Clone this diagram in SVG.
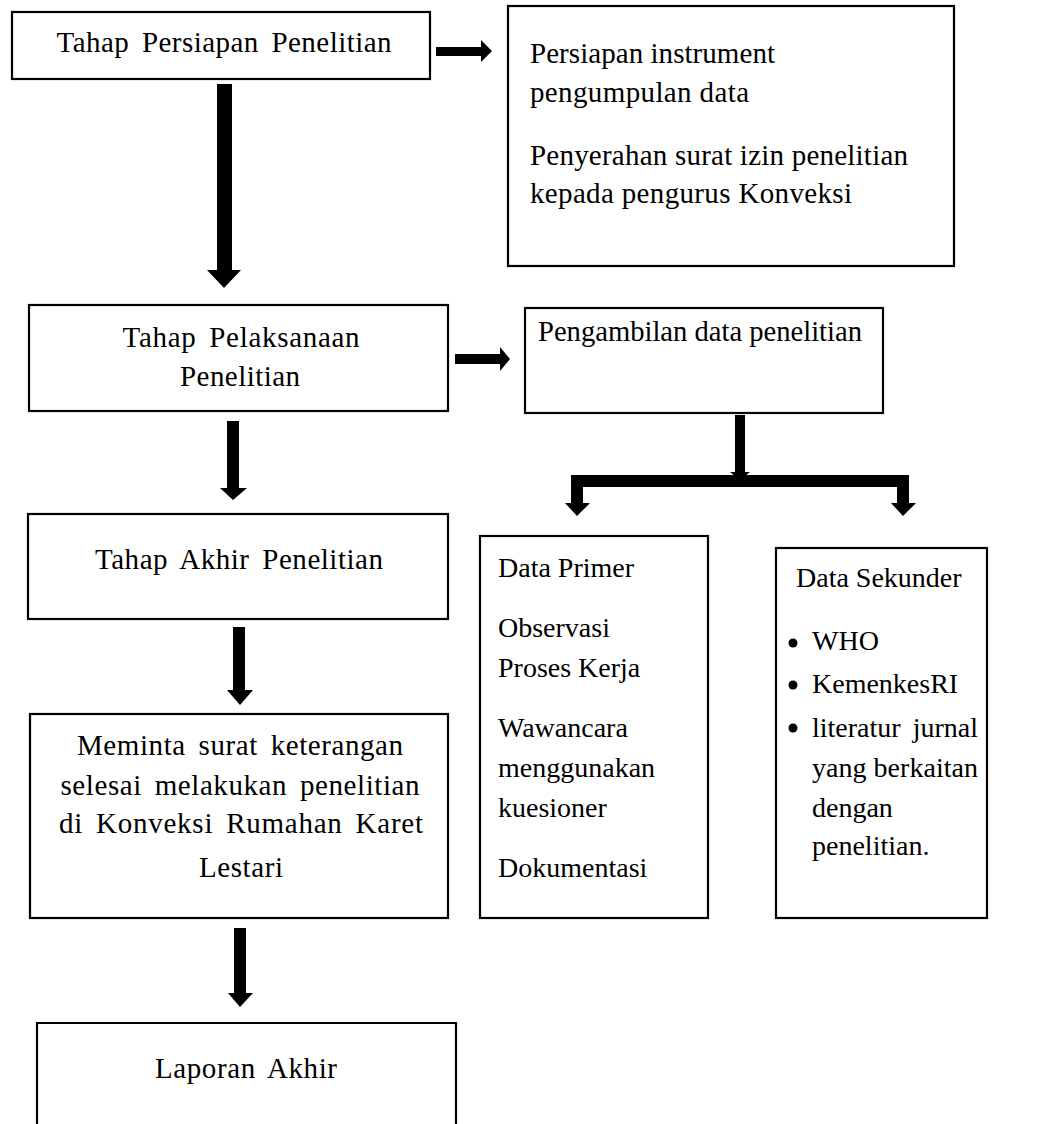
<svg xmlns="http://www.w3.org/2000/svg" width="1053" height="1124" viewBox="0 0 1053 1124">
<style>
.box{fill:#fff;stroke:#000;stroke-width:2.2}
.t{font-family:"Liberation Serif","Times New Roman",serif;font-size:28px;fill:#000}
.l{font-size:29px}
.c{text-anchor:middle}
.w{word-spacing:5px}
.arr{fill:#000}
</style>
<rect width="1053" height="1124" fill="#fff"/>
<g id="n1"><rect class="box" x="12" y="12" width="418" height="67"/><text class="t l c w" x="224" y="52" textLength="335" lengthAdjust="spacing">Tahap Persiapan Penelitian</text></g>
<g id="n2"><rect class="box" x="508" y="6" width="446" height="260"/>
<text class="t l" x="530" y="63" textLength="245" lengthAdjust="spacing">Persiapan instrument</text>
<text class="t l" x="530" y="102" textLength="219" lengthAdjust="spacing">pengumpulan data</text>
<text class="t l" x="530" y="165" textLength="378" lengthAdjust="spacing">Penyerahan surat izin penelitian</text>
<text class="t l" x="530" y="203" textLength="322" lengthAdjust="spacing">kepada pengurus Konveksi</text></g>
<g id="n3"><rect class="box" x="29" y="305" width="419" height="106"/>
<text class="t l c w" x="241" y="347" textLength="237" lengthAdjust="spacing">Tahap Pelaksanaan</text>
<text class="t l c" x="240" y="386" textLength="120" lengthAdjust="spacing">Penelitian</text></g>
<g id="n4"><rect class="box" x="28" y="514" width="420" height="105"/>
<text class="t l c w" x="239" y="569" textLength="288" lengthAdjust="spacing">Tahap Akhir Penelitian</text></g>
<g id="n5"><rect class="box" x="30" y="714" width="418" height="204"/>
<text class="t l c w" x="240" y="755" textLength="326" lengthAdjust="spacing">Meminta surat keterangan</text>
<text class="t l c w" x="240" y="795" textLength="359" lengthAdjust="spacing">selesai melakukan penelitian</text>
<text class="t l c w" x="241" y="833" textLength="364" lengthAdjust="spacing">di Konveksi Rumahan Karet</text>
<text class="t l c" x="241" y="877" textLength="84" lengthAdjust="spacing">Lestari</text></g>
<g id="n6"><path class="box" d="M37,1124 V1023 H456 V1124"/>
<text class="t l c w" x="246" y="1078" textLength="182" lengthAdjust="spacing">Laporan Akhir</text></g>
<g id="n7"><rect class="box" x="525" y="308" width="358" height="105"/>
<text class="t l c" x="700" y="341" textLength="324" lengthAdjust="spacingAndGlyphs">Pengambilan data penelitian</text></g>
<g id="n8"><rect class="box" x="480" y="536" width="228" height="382"/>
<text class="t" x="498" y="577">Data Primer</text>
<text class="t" x="498" y="637">Observasi</text>
<text class="t" x="498" y="677">Proses Kerja</text>
<text class="t" x="498" y="737">Wawancara</text>
<text class="t" x="498" y="777">menggunakan</text>
<text class="t" x="498" y="817">kuesioner</text>
<text class="t" x="498" y="877">Dokumentasi</text></g>
<g id="n9"><rect class="box" x="776" y="548" width="211" height="370"/>
<text class="t" x="796" y="587">Data Sekunder</text>
<circle cx="793" cy="643" r="4.5"/><circle cx="793" cy="685" r="4.5"/><circle cx="793" cy="728" r="4.5"/>
<text class="t" x="812" y="650">WHO</text>
<text class="t" x="812" y="693">KemenkesRI</text>
<text class="t w" x="812" y="737" textLength="166" lengthAdjust="spacing">literatur jurnal</text>
<text class="t" x="812" y="777" textLength="166" lengthAdjust="spacing">yang berkaitan</text>
<text class="t" x="812" y="817">dengan</text>
<text class="t" x="812" y="855">penelitian.</text></g>
<g id="connectors">
<polygon class="arr" points="436,47 481,47 481,40 492,51 481,62 481,56 436,56"/>
<polygon class="arr" points="217,84 232,84 232,270 241,270 224,288 207,270 217,270"/>
<polygon class="arr" points="455,354 500,354 500,347 510,359 500,371 500,364 455,364"/>
<polygon class="arr" points="227,421 239,421 239,488 247,488 233,500 220,488 227,488"/>
<polygon class="arr" points="233,627 245,627 245,690 253,690 240,705 227,690 233,690"/>
<polygon class="arr" points="234,928 246,928 246,993 253,993 240,1007 228,993 234,993"/>
<polygon class="arr" points="735,415 745,415 745,472 750,472 740,480 730,472 735,472"/>
<polygon class="arr" points="571,475 909,475 909,503 916,503 903,516 891,503 897,503 897,487 583,487 583,503 590,503 577,516 565,503 571,503"/>
</g>
</svg>
